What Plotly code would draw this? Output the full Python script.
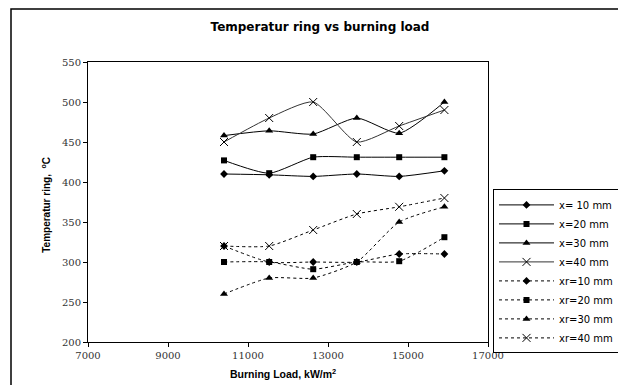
import plotly.graph_objects as go

burning_load = [10400, 11530, 12630, 13720, 14780, 15910]

x10 = [410, 409, 407, 410, 407, 414]
x20 = [427, 411, 431, 431, 431, 431]
x30 = [458, 464, 460, 480, 461, 500]
x40 = [450, 480, 500, 450, 470, 490]
xr10 = [320, 300, 300, 300, 310, 310]
xr20 = [300, 300, 291, 300, 301, 331]
xr30 = [260, 280, 280, 300, 350, 369]
xr40 = [320, 320, 340, 360, 369, 380]

series = [
    ("x= 10 mm", x10, "diamond", "solid", "black", 6),
    ("x=20 mm", x20, "square", "solid", "black", 6),
    ("x=30 mm", x30, "triangle-up", "solid", "black", 7),
    ("x=40 mm", x40, "x-thin", "solid", "#333333", 8),
    ("xr=10 mm", xr10, "diamond", "3px,3px", "black", 6),
    ("xr=20 mm", xr20, "square", "3px,3px", "black", 6),
    ("xr=30 mm", xr30, "triangle-up", "3px,3px", "black", 7),
    ("xr=40 mm", xr40, "x-thin", "3px,3px", "black", 8),
]

fig = go.Figure()
for name, vals, sym, dash, col, msize in series:
    marker = dict(symbol=sym, size=msize, color="black")
    if sym == "x-thin":
        marker["line"] = dict(color="black", width=1)
    fig.add_trace(go.Scatter(
        x=burning_load, y=vals, name=name, mode="lines+markers",
        line=dict(color=col, width=1, dash=dash, shape="spline", smoothing=0.6),
        marker=marker,
    ))

axis_font = dict(family="DejaVu Serif", size=10, color="#333333")
fig.update_xaxes(range=[7000, 17000], dtick=2000, tick0=7000, tickformat="d",
                 showgrid=False, zeroline=False, showline=True, linecolor="black",
                 linewidth=1, mirror=True, ticks="outside", ticklen=4,
                 tickcolor="black", tickfont=axis_font)
fig.update_yaxes(range=[200, 550], dtick=50, tick0=200, tickformat="d",
                 showgrid=False, zeroline=False, showline=True, linecolor="black",
                 linewidth=1, mirror=True, ticks="outside", ticklen=4,
                 tickcolor="black", tickfont=axis_font)

fig.update_layout(
    width=618, height=385,
    margin=dict(l=88, r=130, t=62, b=43, autoexpand=False),
    paper_bgcolor="white", plot_bgcolor="white",
    title=dict(text="<b>Temperatur ring vs burning load</b>",
               font=dict(family="DejaVu Sans", size=12, color="black"),
               x=0.58, xref="paper", xanchor="center",
               y=1 - 27 / 385, yref="container", yanchor="middle"),
    legend=dict(x=1.0125, y=0.545, xanchor="left", yanchor="top",
                bordercolor="black", borderwidth=1, bgcolor="white",
                font=dict(family="DejaVu Sans", size=10, color="black"),
                itemwidth=55, tracegroupgap=0),
    showlegend=True,
    annotations=[
        dict(text="<b>Temperatur ring,  <sup>o</sup>C</b>", textangle=-90,
             x=-0.105, y=0.49, xref="paper", yref="paper",
             xanchor="center", yanchor="middle", showarrow=False,
             font=dict(family="Liberation Sans", size=10, color="black")),
        dict(text="<b>Burning Load, kW/m<sup>2</sup></b>",
             x=0.4875, y=-0.114, xref="paper", yref="paper",
             xanchor="center", yanchor="middle", showarrow=False,
             font=dict(family="Liberation Sans", size=10.5, color="black")),
    ],
    shapes=[
        dict(type="rect", xref="paper", yref="paper",
             x0=(11 - 88) / 400, x1=1.5, y0=-0.5, y1=(342 - 9) / 280,
             line=dict(color="black", width=1.5), layer="below"),
    ],
)

fig.write_html("out.html")
